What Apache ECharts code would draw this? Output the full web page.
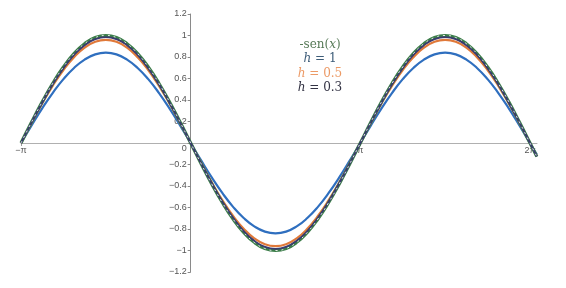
<!DOCTYPE html>
<html><head><meta charset="utf-8">
<script src="https://cdn.jsdelivr.net/npm/echarts@6/dist/echarts.min.js"></script>
<style>html,body{margin:0;padding:0;background:#fff}#c{width:566px;height:288px}</style>
</head><body><div id="c"></div>
<script>
// x sample positions (radians)
const xValues = [-3.1416,-2.9452,-2.7489,-2.5525,-2.3562,-2.1598,-1.9635,-1.7671,-1.5708,-1.3744,-1.1781,-0.9817,-0.7854,-0.5890,-0.3927,-0.1963,
  0,0.1963,0.3927,0.5890,0.7854,0.9817,1.1781,1.3744,1.5708,1.7671,1.9635,2.1598,2.3562,2.5525,2.7489,2.9452,
  3.1416,3.3379,3.5343,3.7306,3.9270,4.1233,4.3197,4.5160,4.7124,4.9087,5.1051,5.3014,5.4978,5.6941,5.8905,6.0868,
  6.2832,6.41];
// -sen(x)
const negSin = [0,0.195,0.383,0.556,0.707,0.831,0.924,0.981,1,0.981,0.924,0.831,0.707,0.556,0.383,0.195,
  0,-0.195,-0.383,-0.556,-0.707,-0.831,-0.924,-0.981,-1,-0.981,-0.924,-0.831,-0.707,-0.556,-0.383,-0.195,
  0,0.195,0.383,0.556,0.707,0.831,0.924,0.981,1,0.981,0.924,0.831,0.707,0.556,0.383,0.195,
  0,-0.127];
// h = 1
const h1 = [0,0.164,0.322,0.467,0.594,0.698,0.776,0.824,0.84,0.824,0.776,0.698,0.594,0.467,0.322,0.164,
  0,-0.164,-0.322,-0.467,-0.594,-0.698,-0.776,-0.824,-0.84,-0.824,-0.776,-0.698,-0.594,-0.467,-0.322,-0.164,
  0,0.164,0.322,0.467,0.594,0.698,0.776,0.824,0.84,0.824,0.776,0.698,0.594,0.467,0.322,0.164,
  0,-0.107];
// h = 0.5
const h05 = [0,0.187,0.368,0.534,0.679,0.798,0.887,0.942,0.96,0.942,0.887,0.798,0.679,0.534,0.368,0.187,
  0,-0.187,-0.368,-0.534,-0.679,-0.798,-0.887,-0.942,-0.96,-0.942,-0.887,-0.798,-0.679,-0.534,-0.368,-0.187,
  0,0.187,0.368,0.534,0.679,0.798,0.887,0.942,0.96,0.942,0.887,0.798,0.679,0.534,0.368,0.187,
  0,-0.122];
// h = 0.3
const h03 = [0,0.192,0.377,0.548,0.696,0.819,0.910,0.966,0.985,0.966,0.910,0.819,0.696,0.548,0.377,0.192,
  0,-0.192,-0.377,-0.548,-0.696,-0.819,-0.910,-0.966,-0.985,-0.966,-0.910,-0.819,-0.696,-0.548,-0.377,-0.192,
  0,0.192,0.377,0.548,0.696,0.819,0.910,0.966,0.985,0.966,0.910,0.819,0.696,0.548,0.377,0.192,
  0,-0.125];
const xTickLabels = {'-1':'−π','0':'','1':'π','2':'2π'};

const PI = Math.PI;
const X_MIN = -PI, X_MAX = 6.413, Y_MIN = -1.2, Y_MAX = 1.2;
const G = {left:21, right:29, top:14, bottom:16};
const W = 566, H = 288;
const gw = W - G.left - G.right, gh = H - G.top - G.bottom;
const xZeroOff = (0 - X_MIN) / (X_MAX - X_MIN) * gw;     // distance from grid left to x=0
const yZeroOff = (0 - Y_MIN) / (Y_MAX - Y_MIN) * gh;     // distance from grid bottom to y=0

const pair = arr => xValues.map((x,i)=>[x,arr[i]]);
const chart = echarts.init(document.getElementById('c'));
const lineS = (name, data, color, width, z, extra) => Object.assign({
  name, type:'line', data:pair(data), smooth:true, showSymbol:false, symbol:'none',
  lineStyle:{color, width}, z, silent:true
}, extra||{});
const mathText = (y, pre, it, post, color) => ({
  type:'text', x:320, y,
  style:{text: pre + '{i|' + it + '}' + post,
    rich:{i:{fontStyle:'italic', fontFamily:'DejaVu Serif', fontSize:12, fill:color}},
    fontFamily:'DejaVu Serif', fontSize:12, fill:color, align:'center', verticalAlign:'middle'}
});
chart.setOption({
  animation:false,
  grid:Object.assign({containLabel:false}, G),
  xAxis:{type:'value', min:X_MIN, max:X_MAX, interval:PI, position:'bottom', offset:-yZeroOff,
    axisLine:{onZero:false, lineStyle:{color:'#b0b0b0', width:1}},
    axisTick:{show:true, length:3, lineStyle:{color:'#999'}},
    splitLine:{show:false},
    axisLabel:{color:'#555', fontSize:9, fontFamily:'Liberation Sans', margin:3,
      showMaxLabel:false,
      formatter:v=>{const k=Math.round(v/PI); return Math.abs(v-k*PI)<1e-6 ? (xTickLabels[String(k)]||'') : '';}}
  },
  yAxis:{type:'value', min:Y_MIN, max:Y_MAX, interval:0.2, position:'left', offset:-xZeroOff,
    axisLine:{onZero:false, lineStyle:{color:'#8a8a8a', width:1}},
    axisTick:{show:true, length:3, lineStyle:{color:'#888'}},
    splitLine:{show:false},
    axisLabel:{color:'#555', fontSize:9, fontFamily:'Liberation Sans', margin:4,
      formatter:v=>{ if(Math.abs(v)<1e-9) return '{z|0}'; let s=String(Math.round(v*10)/10); return s.replace('-','−');},
      rich:{z:{fontSize:9, color:'#555', padding:[12,0,0,0]}}
    }
  },
  series:[
    lineS('h = 1', h1, '#2f6fbf', 2.2, 2),
    lineS('h = 0.5', h05, '#e0793a', 2.2, 3),
    lineS('-sen(x)', negSin, '#3c7d4a', 3.2, 4),
    lineS('h = 0.3', h03, '#3a3a6e', 1.8, 5),
    lineS('-sen(x) dash', negSin, '#ffffff', 1, 6, {lineStyle:{color:'#ffffff', width:1, type:[2,4], opacity:0.85}})
  ],
  graphic:[
    mathText(45, '-sen(', 'x', ')', '#577a57'),
    mathText(59, '', 'h', ' = 1', '#3d5c78'),
    mathText(74, '', 'h', ' = 0.5', '#ec9a66'),
    mathText(88, '', 'h', ' = 0.3', '#333344')
  ]
});
</script></body></html>
